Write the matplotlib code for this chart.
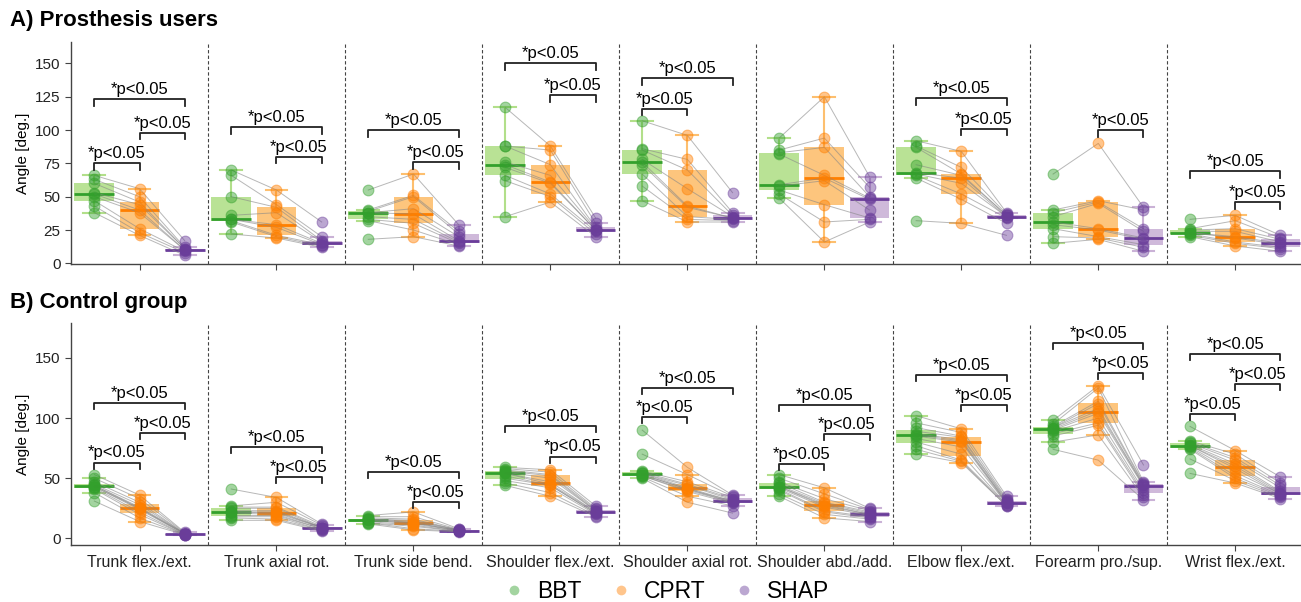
import numpy as np
import matplotlib
matplotlib.use("Agg")
import matplotlib.pyplot as plt
from matplotlib.lines import Line2D

plt.rcParams['font.family'] = ['Liberation Sans', 'DejaVu Sans']

categories = ["Trunk flex./ext.", "Trunk axial rot.", "Trunk side bend.",
              "Shoulder flex./ext.", "Shoulder axial rot.", "Shoulder abd./add.",
              "Elbow flex./ext.", "Forearm pro./sup.", "Wrist flex./ext."]
groups = ["BBT", "CPRT", "SHAP"]

# ---------------- A) Prosthesis users (per subject, per category) ----------------
pu_bbt = [
    [66, 63, 60, 53, 52, 50, 47, 43, 38],
    [70, 66, 50, 36, 33, 33, 32, 31, 22],
    [55, 40, 39, 38, 38, 35, 33, 32, 18],
    [117, 88, 88, 76, 74, 72, 66, 62, 35],
    [107, 86, 85, 78, 76, 74, 67, 58, 47],
    [94, 85, 83, 82, 59, 58, 55, 52, 49],
    [92, 88, 87, 74, 68, 67, 66, 64, 32],
    [67, 40, 38, 35, 31, 29, 26, 20, 15],
    [33, 26, 25, 24, 23, 23, 22, 21, 20],
]
pu_cprt = [
    [56, 50, 46, 44, 40, 38, 26, 23, 21],
    [55, 44, 42, 38, 29, 27, 21, 20, 19],
    [67, 51, 50, 41, 37, 33, 30, 25, 20],
    [88, 85, 74, 66, 61, 60, 52, 50, 46],
    [96, 78, 70, 56, 43, 42, 35, 33, 31],
    [125, 94, 87, 66, 64, 62, 44, 31, 16],
    [84, 72, 67, 66, 64, 60, 52, 48, 30],
    [90, 47, 46, 45, 26, 25, 20, 19, 18],
    [36, 32, 26, 24, 20, 19, 16, 15, 13],
]
pu_shap = [
    [17, 12, 11, 11, 10, 10, 9, 8, 6],
    [31, 20, 17, 16, 15, 14, 14, 13, 12],
    [29, 24, 22, 20, 17, 16, 15, 14, 13],
    [34, 30, 27, 26, 25, 25, 24, 22, 20],
    [53, 38, 36, 35, 34, 34, 33, 32, 31],
    [65, 57, 50, 49, 48, 40, 34, 33, 31],
    [38, 37, 36, 36, 35, 35, 34, 30, 21],
    [42, 40, 26, 24, 19, 18, 14, 12, 9],
    [21, 19, 18, 16, 15, 14, 12, 11, 9],
]
# (category, group a, group b, bracket height)
pu_sig = [(0, 0, 1, 75), (0, 1, 2, 98), (0, 0, 2, 123),
          (1, 1, 2, 80), (1, 0, 2, 102),
          (2, 1, 2, 76), (2, 0, 2, 100),
          (3, 1, 2, 126), (3, 0, 2, 150),
          (4, 0, 1, 116), (4, 0, 2, 139),
          (6, 1, 2, 101), (6, 0, 2, 124),
          (7, 1, 2, 100),
          (8, 1, 2, 46), (8, 0, 2, 69)]

# ---------------- B) Control group ----------------
cg_bbt = [
    [53, 50, 47, 45, 44, 44, 43, 43, 42, 41, 38, 31],
    [41, 27, 26, 25, 23, 22, 22, 21, 19, 18, 17, 15],
    [19, 18, 17, 16, 16, 16, 15, 15, 14, 13, 13, 12],
    [59, 58, 57, 56, 55, 54, 54, 52, 50, 48, 46, 44],
    [90, 70, 56, 55, 54, 54, 53, 53, 52, 52, 51, 50],
    [53, 50, 47, 46, 44, 43, 43, 42, 41, 40, 37, 35],
    [102, 96, 92, 89, 87, 86, 85, 83, 80, 77, 74, 70],
    [98, 95, 93, 92, 92, 91, 90, 89, 87, 85, 80, 74],
    [93, 81, 80, 79, 78, 77, 77, 76, 75, 74, 66, 54],
]
cg_cprt = [
    [36, 33, 30, 28, 26, 25, 25, 24, 22, 20, 17, 14],
    [34, 30, 26, 25, 23, 22, 21, 20, 19, 18, 16, 15],
    [22, 18, 16, 15, 14, 13, 13, 12, 11, 10, 8, 7],
    [57, 55, 53, 52, 50, 47, 45, 44, 44, 42, 38, 35],
    [59, 53, 47, 45, 44, 42, 41, 41, 40, 39, 35, 30],
    [42, 37, 33, 30, 29, 28, 27, 26, 23, 22, 20, 17],
    [91, 88, 85, 84, 82, 81, 80, 76, 70, 65, 64, 63],
    [127, 125, 114, 112, 108, 106, 104, 100, 96, 94, 86, 65],
    [73, 70, 67, 65, 62, 60, 58, 55, 52, 50, 48, 46],
]
cg_shap = [
    [5, 4.5, 4, 4, 4, 4, 3.5, 3.5, 3, 3, 3, 3],
    [12, 11, 10, 9, 9, 9, 9, 8, 8, 7, 7, 6],
    [8, 7.5, 7, 7, 7, 6.5, 6.5, 6.5, 6, 6, 6, 5.5],
    [27, 25, 24, 23, 23, 22, 22, 21, 21, 20, 19, 18],
    [36, 35, 34, 33, 32, 31, 31, 30, 30, 29, 27, 21],
    [25, 24, 23, 22, 21, 20, 20, 19, 18, 17, 16, 14],
    [35, 33, 32, 31, 30, 30, 29, 29, 28, 28, 27, 27],
    [61, 47, 46, 45, 44, 44, 43, 40, 38, 36, 34, 32],
    [51, 46, 44, 42, 39, 38, 37, 37, 36, 35, 34, 33],
]
cg_sig = [(0, 0, 1, 63), (0, 1, 2, 87.5), (0, 0, 2, 112.5),
          (1, 1, 2, 51), (1, 0, 2, 76),
          (2, 1, 2, 30.5), (2, 0, 2, 55.5),
          (3, 1, 2, 68), (3, 0, 2, 93.5),
          (4, 0, 1, 101), (4, 0, 2, 125),
          (5, 0, 1, 62), (5, 1, 2, 87), (5, 0, 2, 111),
          (6, 1, 2, 110.5), (6, 0, 2, 136),
          (7, 1, 2, 137.5), (7, 0, 2, 162),
          (8, 0, 1, 103), (8, 1, 2, 128), (8, 0, 2, 153)]

light = ["#b2df8a", "#fdbf6f", "#cab2d6"]
dark = ["#33a02c", "#ff7f00", "#6a3d9a"]
offsets = [-0.33, 0.0, 0.33]


def draw(ax, data, sig, yticks, ylim, drop):
    ncat = len(categories)
    for g in range(3):
        pos = np.arange(ncat) + offsets[g]
        ax.boxplot(data[g], positions=pos, widths=0.29, patch_artist=True,
                   showfliers=False, capwidths=0.16, manage_ticks=False,
                   boxprops=dict(facecolor=light[g], edgecolor='none', alpha=0.9),
                   whiskerprops=dict(color=light[g], lw=1.5),
                   capprops=dict(color=light[g], lw=1.5),
                   medianprops=dict(color=dark[g], lw=2),
                   zorder=1)
    for c in range(ncat):
        n = len(data[0][c])
        for s in range(n):
            ax.plot([c + o for o in offsets], [data[g][c][s] for g in range(3)],
                    color='#888888', lw=0.7, alpha=0.6, zorder=2)
        for g in range(3):
            ax.scatter(np.full(n, c + offsets[g]), data[g][c], s=60,
                       color=dark[g], alpha=0.45, edgecolors=dark[g],
                       linewidths=0.8, zorder=3)
    for k in range(ncat - 1):
        ax.axvline(k + 0.5, color='#444444', lw=0.8, ls=(0, (3, 2)), zorder=0)
    for c, a, b, h in sig:
        x1, x2 = c + offsets[a], c + offsets[b]
        ax.plot([x1, x1, x2, x2], [h - drop, h, h, h - drop], color='#222222', lw=1.3, zorder=4)
        ax.annotate("*p<0.05", xy=((x1 + x2) / 2, h), xytext=(0, 1.5),
                    textcoords='offset points', ha='center', va='bottom', fontsize=12)
    ax.set_xlim(-0.5, 8.48)
    ax.set_ylim(*ylim)
    ax.set_yticks(yticks)
    ax.set_xticks(np.arange(ncat))
    for sp in ['top', 'right']:
        ax.spines[sp].set_visible(False)
    for sp in ['left', 'bottom']:
        ax.spines[sp].set_color('#444444')
        ax.spines[sp].set_linewidth(1.0)
    ax.tick_params(colors='#222222', labelsize=11, length=4, color='#444444')
    ax.set_ylabel("Angle [deg.]", fontsize=11)


fig = plt.figure(figsize=(13.01, 6.02), dpi=100)
ax1 = fig.add_axes([0.0546, 0.5615, 0.9454, 0.3685])
ax2 = fig.add_axes([0.0546, 0.0947, 0.9454, 0.3688])

draw(ax1, [pu_bbt, pu_cprt, pu_shap], pu_sig, [0, 25, 50, 75, 100, 125, 150], (-0.5, 166), 5)
ax1.set_xticklabels([])
draw(ax2, [cg_bbt, cg_cprt, cg_shap], cg_sig, [0, 50, 100, 150], (-5.5, 179), 5)
ax2.set_xticklabels(categories, fontsize=11.5)

fig.text(0.008, 0.966, "A) Prosthesis users", fontsize=16, fontweight='bold', va='center')
fig.text(0.008, 0.497, "B) Control group", fontsize=16, fontweight='bold', va='center')

handles = [Line2D([], [], marker='o', ls='none', markersize=7, color=dark[g], alpha=0.45,
                  markeredgecolor='none') for g in range(3)]
fig.legend(handles, groups, loc='center', bbox_to_anchor=(0.512, 0.018), ncol=3,
           frameon=False, fontsize=16.5, handlelength=1.0, handletextpad=0.5,
           columnspacing=1.2)

fig.savefig("out.png", dpi=100)
